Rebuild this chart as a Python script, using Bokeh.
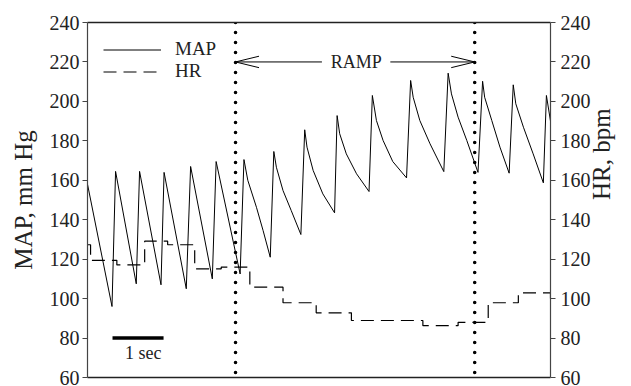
import math
from bokeh.plotting import figure
from bokeh.models import Range1d, LinearAxis, Legend, LegendItem, FixedTicker
from bokeh.core.properties import value
from bokeh.embed import file_html
from bokeh.resources import INLINE

# ---- data (time in seconds) ----
map_t = [0.00, 0.48, 0.55, 0.955, 1.02, 1.44, 1.50, 1.935, 2.02, 2.445, 2.52, 2.99,
         3.065, 3.14, 3.31, 3.44, 3.58,
         3.65, 3.70, 3.83, 3.99, 4.18,
         4.255, 4.30, 4.42, 4.61, 4.84,
         4.89, 4.94, 5.07, 5.27, 5.515,
         5.58, 5.66, 5.79, 5.98, 6.25,
         6.33, 6.38, 6.51, 6.71, 6.98,
         7.065, 7.13, 7.26, 7.43, 7.65,
         7.74, 7.78, 7.92, 8.08, 8.26,
         8.34, 8.39, 8.54, 8.73, 8.93,
         8.99, 9.07]
map_v = [158, 96, 164.5, 107.5, 164.5, 107, 164, 105, 167, 110, 169.5, 112.5,
         170.5, 160, 146.3, 134.5, 121,
         174.6, 166.6, 154.8, 144.7, 132.5,
         185.6, 176.8, 165, 153.1, 143.5,
         192.8, 183.6, 173.4, 163.3, 154.3,
         203, 190.3, 180.2, 169.5, 161.2,
         210.6, 202.1, 190.3, 178.5, 164.4,
         214.3, 203.8, 192, 180.2, 164,
         210.2, 202.1, 190.3, 176.8, 163.6,
         208.4, 198.8, 186.9, 173.4, 158.7,
         203, 190]

hr_t = [0.00, 0.06, 0.575, 1.12, 1.57, 2.10, 2.62, 3.18, 3.83, 4.48, 5.17,
        6.57, 7.26, 7.85, 8.44, 9.07, 9.07]
hr_v = [127.3, 119.4, 117.1, 129.1, 127.3, 115.1, 116.0, 105.8, 97.9, 92.8, 88.9,
        86.3, 88.0, 97.9, 102.9, 102.9, 96.5]

ramp_start = 2.90
ramp_end = 7.585
ramp_level = 220
scale_bar_start = 0.49
scale_bar_len = 1.0
scale_bar_level = 80

yticks = [60, 80, 100, 120, 140, 160, 180, 200, 220, 240]

FONT = "Liberation Serif"

p = figure(width=631, height=386, output_backend="svg", toolbar_location=None,
           x_range=Range1d(0, 9.07), y_range=Range1d(60, 240),
           min_border_left=87, min_border_right=81, min_border_top=22,
           min_border_bottom=9, y_axis_location=None, x_axis_location=None)
p.grid.visible = False
p.outline_line_color = None
p.background_fill_color = "white"
p.border_fill_color = "white"

def style_y(ax):
    ax.ticker = yticks
    ax.major_label_text_font = FONT
    ax.major_label_text_font_size = "20px"
    ax.major_label_text_color = "#222222"
    ax.axis_line_color = "#444444"
    ax.axis_line_width = 1.2
    ax.major_tick_line_color = "#444444"
    ax.major_tick_in = 0
    ax.major_tick_out = 5
    ax.minor_tick_line_color = None
    ax.major_label_standoff = 3
    ax.axis_label_text_font = FONT
    ax.axis_label_text_font_size = "25px"
    ax.axis_label_text_font_style = "normal"
    ax.axis_label_text_color = "#222222"

left = LinearAxis(axis_label="MAP, mm Hg")
style_y(left)
left.axis_label_standoff = 10
p.add_layout(left, "left")

right = LinearAxis(axis_label="HR, bpm")
style_y(right)
right.major_label_standoff = 5
right.axis_label_standoff = 8
try:
    right.axis_label_orientation = math.pi / 2
except Exception:
    pass
p.add_layout(right, "right")

for side in ("below", "above"):
    ax = LinearAxis(ticker=FixedTicker(ticks=[]))
    ax.major_tick_line_color = None
    ax.minor_tick_line_color = None
    ax.axis_line_color = "#222222"
    ax.axis_line_width = 1.3
    ax.major_label_standoff = 0
    p.add_layout(ax, side)

# MAP trace
r_map = p.line(map_t, map_v, line_color="black", line_width=1)
# HR trace
r_hr = p.step(hr_t, hr_v, mode="after", line_color="black", line_width=1.2,
              line_dash="13 7")

# dotted ramp markers
for xv in (ramp_start, ramp_end):
    p.line([xv, xv], [240, 60], line_color="black", line_width=3.6,
           line_dash="0 10", line_cap="round")

# RAMP arrow
ramp_mid = (ramp_start + ramp_end) / 2 + 0.02
gap = 0.67
p.line([ramp_start, ramp_mid - gap], [ramp_level, ramp_level], line_color="black", line_width=1)
p.line([ramp_mid + gap, ramp_end], [ramp_level, ramp_level], line_color="black", line_width=1)
hl, hh = 0.46, 2.9
p.multi_line(xs=[[ramp_start + hl, ramp_start, ramp_start + hl],
                 [ramp_end - hl, ramp_end, ramp_end - hl]],
             ys=[[ramp_level + hh, ramp_level, ramp_level - hh],
                 [ramp_level + hh, ramp_level, ramp_level - hh]],
             line_color="black", line_width=1)
p.text(x=[ramp_mid], y=[ramp_level], text=["RAMP"], text_font=value(FONT),
       text_font_size="18px", text_align="center", text_baseline="middle",
       text_color="#222222")

# scale bar
p.line([scale_bar_start, scale_bar_start + scale_bar_len], [scale_bar_level, scale_bar_level],
       line_color="black", line_width=3.5)
p.text(x=[scale_bar_start + scale_bar_len / 2 + 0.1], y=[scale_bar_level - 2.5], text=["1 sec"],
       text_font=value(FONT), text_font_size="18px", text_align="center",
       text_baseline="top", text_color="#222222")

legend = Legend(items=[LegendItem(label="MAP", renderers=[r_map]),
                       LegendItem(label="HR", renderers=[r_hr])],
                location="top_left")
legend.margin = 6
legend.padding = 10
legend.glyph_width = 58
legend.glyph_height = 13
legend.label_height = 13
legend.spacing = 0
legend.label_standoff = 14
legend.label_text_font = FONT
legend.label_text_font_size = "19px"
legend.label_text_color = "#222222"
legend.background_fill_alpha = 0
legend.border_line_alpha = 0
p.add_layout(legend, "center")

open("out.html", "w").write(file_html(p, INLINE))
